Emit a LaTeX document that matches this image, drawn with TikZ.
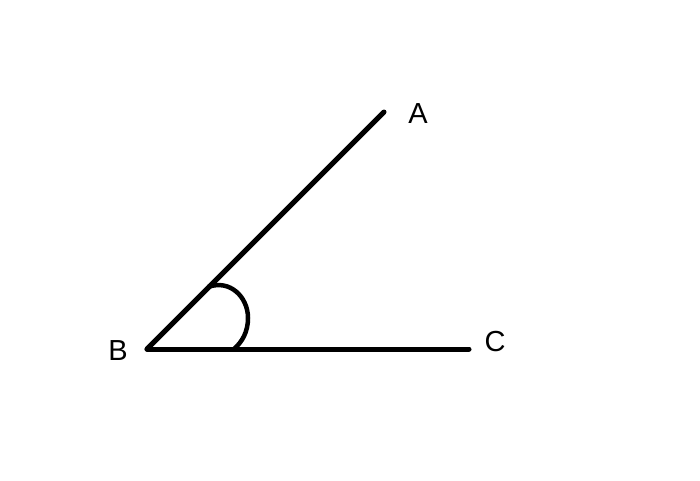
\documentclass[tikz,border=0pt]{standalone}
\usepackage{fontspec}
\setmainfont{Liberation Sans}
\begin{document}
\begin{tikzpicture}[x=1pt,y=-1pt,
  ray/.style={line width=5pt,line cap=round},
  lbl/.style={font=\fontsize{29}{32}\selectfont,inner sep=0pt}]
\useasboundingbox (0,0) rectangle (700,480);
\coordinate (B) at (147,349);
\coordinate (A) at (384,112);
\coordinate (C) at (469,349);
\coordinate (arcS) at (208,287);
\coordinate (arcM) at (248,318);
\coordinate (arcE) at (234,349);
\draw[ray] (B) -- (A);
\draw[ray] (B) -- (C);
\draw[line width=4.5pt] (arcS) .. controls (230,279) and (248,297) .. (arcM)
  .. controls (248,332) and (242,342) .. (arcE);
\node[lbl] (la) at (418,114) {A};
\node[lbl] (lb) at (118,351) {B};
\node[lbl] (lc) at (495,342) {C};
\end{tikzpicture}
\end{document}
